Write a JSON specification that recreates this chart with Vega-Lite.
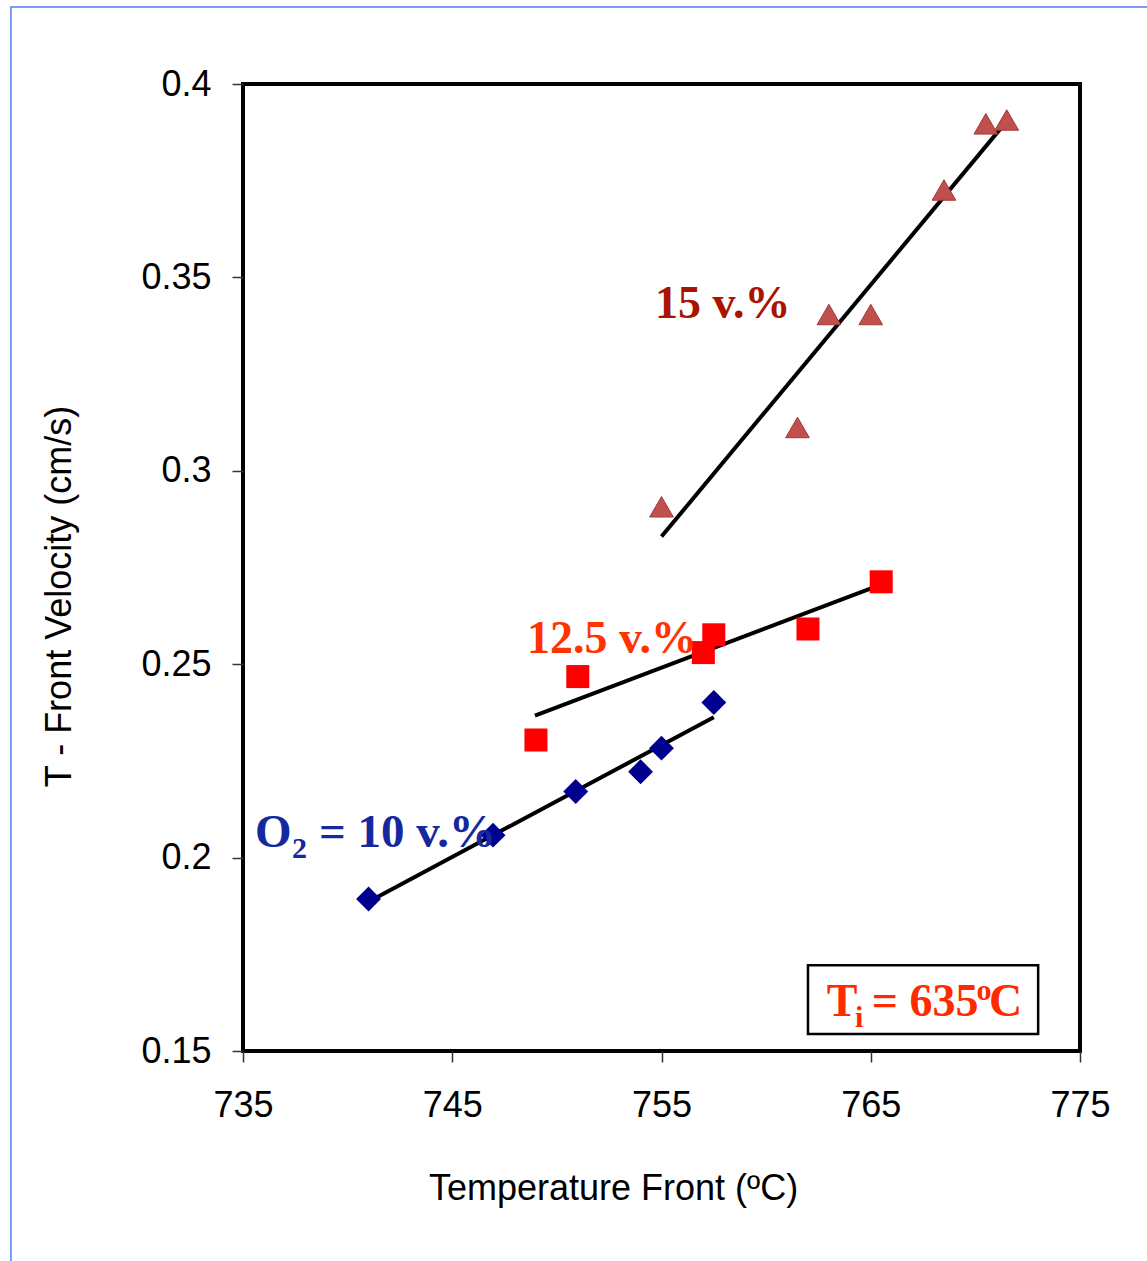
{
  "$schema": "https://vega.github.io/schema/vega-lite/v6.json",
  "width": 837,
  "height": 967,
  "autosize": {"type": "none"},
  "padding": {"left": 243, "top": 84, "right": 67, "bottom": 210},
  "background": "white",
  "config": {
    "view": {"stroke": "black", "strokeWidth": 4},
    "axis": {"grid": false, "domain": false, "labelFont": "Liberation Sans", "titleFont": "Liberation Sans", "labelColor": "black", "titleColor": "black", "tickColor": "#333333", "tickWidth": 1.5, "tickSize": 11, "titleFontWeight": "normal", "labelFlush": false, "labelOverlap": false}
  },
  "datasets": {
    "points": [
      {"series": "10", "temp": 741.0, "vel": 0.1893},
      {"series": "10", "temp": 746.95, "vel": 0.2058},
      {"series": "10", "temp": 750.9, "vel": 0.2171},
      {"series": "10", "temp": 754.0, "vel": 0.2222},
      {"series": "10", "temp": 755.0, "vel": 0.2283},
      {"series": "10", "temp": 757.5, "vel": 0.2401},
      {"series": "12.5", "temp": 749.0, "vel": 0.2304},
      {"series": "12.5", "temp": 751.0, "vel": 0.2468},
      {"series": "12.5", "temp": 757.0, "vel": 0.2530},
      {"series": "12.5", "temp": 757.5, "vel": 0.2576},
      {"series": "12.5", "temp": 762.0, "vel": 0.2591},
      {"series": "12.5", "temp": 765.5, "vel": 0.2713},
      {"series": "15", "temp": 755.0, "vel": 0.2907},
      {"series": "15", "temp": 761.5, "vel": 0.3112},
      {"series": "15", "temp": 763.0, "vel": 0.3404},
      {"series": "15", "temp": 765.0, "vel": 0.3404},
      {"series": "15", "temp": 768.5, "vel": 0.3726},
      {"series": "15", "temp": 770.5, "vel": 0.3897},
      {"series": "15", "temp": 771.5, "vel": 0.3907}
    ],
    "fits": [
      {"series": "10", "temp": 741.0, "vel": 0.1886},
      {"series": "10", "temp": 757.5, "vel": 0.2363},
      {"series": "12.5", "temp": 748.95, "vel": 0.2367},
      {"series": "12.5", "temp": 765.55, "vel": 0.2707},
      {"series": "15", "temp": 755.0, "vel": 0.2830},
      {"series": "15", "temp": 771.5, "vel": 0.3904}
    ]
  },
  "layer": [
    {
      "data": {"values": [{"x1": 723.91, "x2": 790, "y1": 0.4199, "y2": 0.08}]},
      "mark": {"type": "rect", "fill": null, "fillOpacity": 0, "stroke": "#4f7ff0", "strokeWidth": 1.5, "clip": false},
      "encoding": {
        "x": {"field": "x1", "type": "quantitative", "scale": {"domain": [735, 775], "nice": false, "zero": false}},
        "x2": {"field": "x2"},
        "y": {"field": "y1", "type": "quantitative", "scale": {"domain": [0.15, 0.4], "nice": false, "zero": false}},
        "y2": {"field": "y2"}
      }
    },
    {
      "data": {"values": [{"x1": 762.0, "x2": 773.0, "y1": 0.1722, "y2": 0.1544}]},
      "mark": {"type": "rect", "fill": "white", "stroke": "black", "strokeWidth": 2.5},
      "encoding": {
        "x": {"field": "x1", "type": "quantitative"},
        "x2": {"field": "x2"},
        "y": {"field": "y1", "type": "quantitative"},
        "y2": {"field": "y2"}
      }
    },
    {
      "data": {"name": "fits"},
      "mark": {"type": "line", "color": "black", "strokeWidth": 4},
      "encoding": {
        "x": {"field": "temp", "type": "quantitative"},
        "y": {"field": "vel", "type": "quantitative"},
        "detail": {"field": "series"}
      }
    },
    {
      "data": {"name": "points"},
      "transform": [{"filter": "datum.series === '10'"}],
      "mark": {"type": "point", "shape": "diamond", "filled": true, "fill": "#00008f", "opacity": 1, "size": 620},
      "encoding": {
        "x": {"field": "temp", "type": "quantitative"},
        "y": {"field": "vel", "type": "quantitative"}
      }
    },
    {
      "data": {"name": "points"},
      "transform": [{"filter": "datum.series === '12.5'"}],
      "mark": {"type": "point", "shape": "square", "filled": true, "fill": "#ff0000", "opacity": 1, "size": 530},
      "encoding": {
        "x": {"field": "temp", "type": "quantitative"},
        "y": {"field": "vel", "type": "quantitative"}
      }
    },
    {
      "data": {"name": "points"},
      "transform": [{"filter": "datum.series === '15'"}],
      "mark": {"type": "point", "shape": "triangle-up", "filled": true, "fill": "#c0504d", "stroke": "#a03a38", "strokeWidth": 1, "opacity": 1, "size": 560},
      "encoding": {
        "x": {"field": "temp", "type": "quantitative"},
        "y": {"field": "vel", "type": "quantitative"}
      }
    },
    {
      "data": {"values": [{"t": "15 v.%", "x": 754.69, "y": 0.3395}]},
      "mark": {"type": "text", "font": "Liberation Serif", "fontWeight": "bold", "fontSize": 46, "color": "#a81400", "align": "left", "baseline": "alphabetic"},
      "encoding": {"x": {"field": "x", "type": "quantitative"}, "y": {"field": "y", "type": "quantitative"}, "text": {"field": "t"}}
    },
    {
      "data": {"values": [{"t": "12.5 v.%", "x": 748.57, "y": 0.2529}]},
      "mark": {"type": "text", "font": "Liberation Serif", "fontWeight": "bold", "fontSize": 46, "color": "#ff3300", "align": "left", "baseline": "alphabetic"},
      "encoding": {"x": {"field": "x", "type": "quantitative"}, "y": {"field": "y", "type": "quantitative"}, "text": {"field": "t"}}
    },
    {
      "data": {"values": [{"t": "O", "x": 735.57, "y": 0.2027}, {"t": "= 10 v.%", "x": 738.63, "y": 0.2027}]},
      "mark": {"type": "text", "font": "Liberation Serif", "fontWeight": "bold", "fontSize": 47, "color": "#1428a0", "align": "left", "baseline": "alphabetic"},
      "encoding": {"x": {"field": "x", "type": "quantitative"}, "y": {"field": "y", "type": "quantitative"}, "text": {"field": "t"}}
    },
    {
      "data": {"values": [{"t": "2", "x": 737.34, "y": 0.1999}]},
      "mark": {"type": "text", "font": "Liberation Serif", "fontWeight": "bold", "fontSize": 30, "color": "#1428a0", "align": "left", "baseline": "alphabetic"},
      "encoding": {"x": {"field": "x", "type": "quantitative"}, "y": {"field": "y", "type": "quantitative"}, "text": {"field": "t"}}
    },
    {
      "data": {"values": [{"t": "T", "x": 762.9, "y": 0.1590}, {"t": "= 635", "x": 765.05, "y": 0.1590}, {"t": "C", "x": 770.65, "y": 0.1590}]},
      "mark": {"type": "text", "font": "Liberation Serif", "fontWeight": "bold", "fontSize": 46, "color": "#ff2a00", "align": "left", "baseline": "alphabetic"},
      "encoding": {"x": {"field": "x", "type": "quantitative"}, "y": {"field": "y", "type": "quantitative"}, "text": {"field": "t"}}
    },
    {
      "data": {"values": [{"t": "i", "x": 764.25, "y": 0.1562}, {"t": "o", "x": 770.05, "y": 0.1632}]},
      "mark": {"type": "text", "font": "Liberation Serif", "fontWeight": "bold", "fontSize": 30, "color": "#ff2a00", "align": "left", "baseline": "alphabetic"},
      "encoding": {"x": {"field": "x", "type": "quantitative"}, "y": {"field": "y", "type": "quantitative"}, "text": {"field": "t"}}
    },
    {
      "data": {"values": [{"temp": 735, "vel": 0.15}]},
      "mark": {"type": "point", "opacity": 0},
      "encoding": {
        "x": {"field": "temp", "type": "quantitative", "axis": {"values": [735, 745, 755, 765, 775], "labelFontSize": 36, "labelPadding": 26, "title": "Temperature Front (ºC)", "titleFontSize": 36, "titleX": 370, "titleY": 137, "titleBaseline": "middle", "titleAnchor": null, "titleAlign": "center"}},
        "y": {"field": "vel", "type": "quantitative", "axis": {"values": [0.15, 0.2, 0.25, 0.3, 0.35, 0.4], "format": ".2~f", "labelFontSize": 36, "labelPadding": 21, "title": "T - Front Velocity (cm/s)", "titleFontSize": 36, "titleX": -184, "titleY": 512, "titleAngle": -90, "titleAlign": "center", "titleBaseline": "middle"}}
      }
    }
  ]
}
